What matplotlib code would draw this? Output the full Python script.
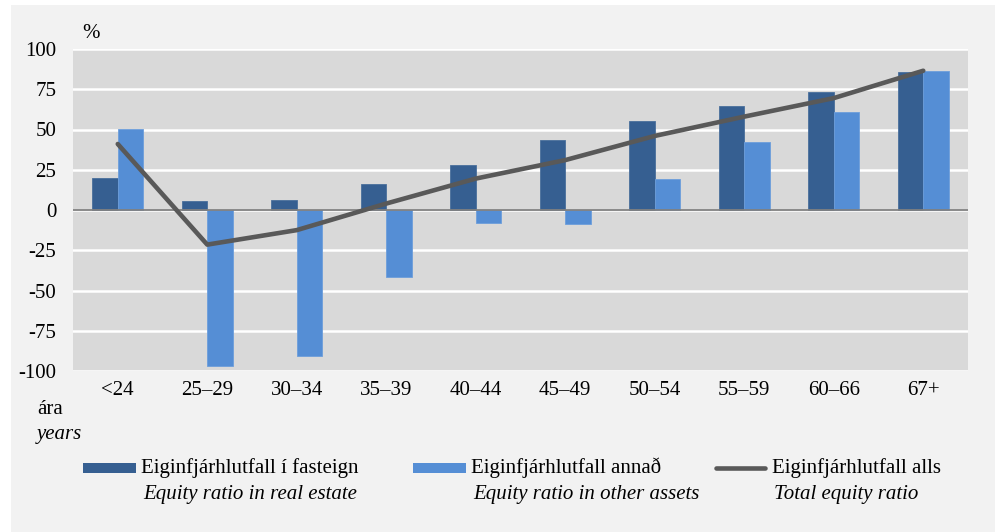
import numpy as np
import matplotlib
matplotlib.use("Agg")
import matplotlib.pyplot as plt
from matplotlib.patches import Rectangle
from matplotlib.lines import Line2D

# data
groups = ["<24", "25–29", "30–34", "35–39", "40–44", "45–49",
          "50–54", "55–59", "60–66", "67+"]
real_estate = [20, 5.4, 6.0, 16, 28, 43.5, 55.5, 64.5, 73.5, 86]
other_assets = [50.5, -97, -90.5, -41.5, -8, -9, 19.5, 42, 61, 86.5]
total = [41, -21.5, -12.5, 4, 19.5, 31, 46, 58, 69.5, 86.5]
yticks = [-100, -75, -50, -25, 0, 25, 50, 75, 100]

dark = "#365f91"
light = "#558ed5"
linec = "#595959"
fs = 15

plt.rcParams["font.family"] = "serif"
plt.rcParams["font.serif"] = ["Liberation Serif", "DejaVu Serif"]
plt.rcParams["mathtext.fontset"] = "stix"

fig = plt.figure(figsize=(10, 5.32), dpi=100, facecolor="white")
W, H = 1000.0, 532.0
# light grey panel with thin white border
fig.patches.append(Rectangle((11 / W, 0), (995 - 11) / W, 1 - 5 / H,
                             transform=fig.transFigure, facecolor="#f2f2f2",
                             edgecolor="none", zorder=-10))

ax = fig.add_axes([73 / W, 1 - 371 / H, (968 - 73) / W, (371 - 49) / H])
ax.set_facecolor("#d9d9d9")

x = np.arange(len(groups))
w = 0.283
ax.bar(x - w / 2, real_estate, w, color=dark, edgecolor="#4a6f9c",
       linewidth=0.6, zorder=3)
ax.bar(x + w / 2, other_assets, w, color=light, edgecolor="#6d9edb",
       linewidth=0.6, zorder=3)
ax.plot(x, total, color=linec, lw=3.3, solid_capstyle="round", zorder=4)
ax.axhline(0, color="#808080", lw=1.3, zorder=3.5)

ax.set_xlim(-0.5, len(groups) - 0.5)
ax.set_ylim(-100, 100)
ax.set_yticks(yticks)
ax.set_yticklabels([str(v) for v in yticks])
ax.set_xticks(x)
ax.set_xticklabels(groups)
ax.grid(axis="y", color="white", lw=1.8, zorder=1)
ax.set_axisbelow(True)
ax.tick_params(length=0, labelsize=fs)
ax.tick_params(axis="y", pad=12)
ax.tick_params(axis="x", pad=7)
for s in ax.spines.values():
    s.set_visible(False)

fig.text(82 / W, 1 - 33 / H, "%", fontsize=fs, va="center", ha="left")
fig.text(37 / W, 1 - 410 / H, "ára", fontsize=fs, va="center", ha="left")
fig.text(37 / W, 1 - 434 / H, "years", fontsize=fs, va="center", ha="left",
         style="italic")

# legend, drawn by hand to get the two-line labels
entries = [
    (83, "patch", dark, "Eiginfjárhlutfall í fasteign", "Equity ratio in real estate"),
    (413, "patch", light, "Eiginfjárhlutfall annað", "Equity ratio in other assets"),
    (714, "line", linec, "Eiginfjárhlutfall alls", "Total equity ratio"),
]
for x0, kind, col, lab1, lab2 in entries:
    if kind == "patch":
        fig.patches.append(Rectangle((x0 / W, 1 - 473 / H), 53 / W, 10 / H,
                                     transform=fig.transFigure,
                                     facecolor=col, edgecolor="none"))
    else:
        fig.lines.append(Line2D([(x0 + 2) / W, (x0 + 51) / W],
                                [1 - 468 / H, 1 - 468 / H],
                                transform=fig.transFigure, color=col, lw=3.3,
                                solid_capstyle="round"))
    fig.text((x0 + 58) / W, 1 - 468 / H, lab1, fontsize=fs, va="center",
             ha="left")
    fig.text((x0 + 60) / W, 1 - 495 / H, lab2, fontsize=fs, va="center",
             ha="left", style="italic")

fig.savefig("out.png", dpi=100, facecolor=fig.get_facecolor())
